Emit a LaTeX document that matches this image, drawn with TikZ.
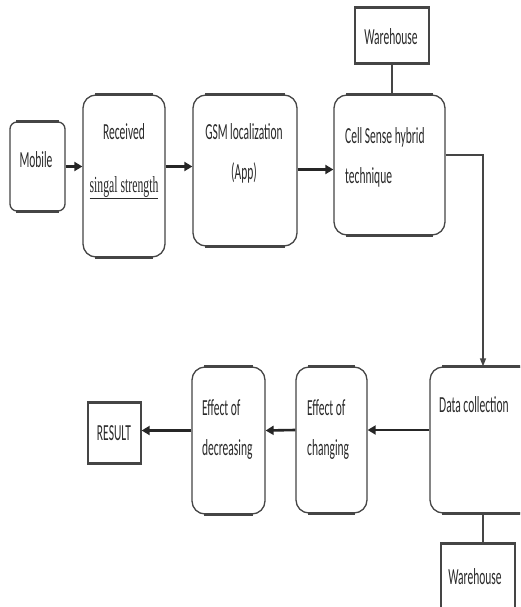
\documentclass[tikz,border=0pt]{standalone}
\usepackage{fontspec}
\usetikzlibrary{arrows.meta,calc}
\newfontfamily\cf[FakeStretch=0.5]{Carlito}
\newfontfamily\serfont[FakeStretch=0.51]{Liberation Serif}
\definecolor{edge}{HTML}{454545}
\definecolor{ink}{HTML}{2a2a2a}
\begin{document}
\begin{tikzpicture}[x=1pt,y=-1pt,
  rbox/.style={draw=edge,line width=1.3pt,rounded corners=13pt,inner sep=0pt,fill=white},
  sbox/.style={draw=edge,line width=1.3pt,inner sep=0pt,fill=white},
  hline/.style={draw=edge,line width=2.4pt},
  txt/.style={font=\cf\fontsize{23}{40}\selectfont,text=ink,inner sep=0pt},
  arr/.style={draw=black!85,line width=2.6pt,-{Triangle[length=8pt,width=9pt]}},
  thin/.style={draw=edge,line width=1.3pt},
  thinarr/.style={draw=edge,line width=1.3pt,-{Triangle[length=8pt,width=6pt]}}]
\clip (0,0) rectangle (520,607);
\fill[white] (0,0) rectangle (520,607);
% boxes
\node[rbox,rounded corners=7pt,minimum width=55pt,minimum height=89pt] (mobile) at (37.5,166.5) {};
\node[rbox,minimum width=82pt,minimum height=162pt] (recv) at (124,176) {};
\node[rbox,minimum width=104pt,minimum height=151pt] (gsm) at (245,170.5) {};
\node[rbox,minimum width=111pt,minimum height=140pt] (cell) at (389.5,165) {};
\node[sbox,minimum width=74pt,minimum height=55pt] (wh1) at (392,35.5) {};
\node[rbox,minimum width=106pt,minimum height=146pt] (data) at (483,440) {};
\node[rbox,minimum width=71pt,minimum height=146pt] (changing) at (331.5,440) {};
\node[rbox,minimum width=73pt,minimum height=147pt] (decreasing) at (228.5,440.5) {};
\node[sbox,minimum width=53pt,minimum height=60pt] (result) at (114.5,433) {};
\node[sbox,minimum width=74pt,minimum height=86pt] (wh2) at (478,587) {};
% heavier horizontal edges
\foreach \n/\r in {mobile/7,recv/13,gsm/13,cell/13,data/13,changing/13,decreasing/13,wh1/0,result/0,wh2/0}{
  \draw[hline] ([xshift=\r pt]\n.north west) -- ([xshift=-\r pt]\n.north east);
  \draw[hline] ([xshift=\r pt]\n.south west) -- ([xshift=-\r pt]\n.south east);
}
% texts
\node[txt] (tmobile) at (36,160) {Mobile};
\node[txt,align=center] (trecv) at (124,161) {Received\\[13pt]{\serfont\underline{singal strength}}};
\node[txt,align=center] (tgsm) at (244,153.5) {GSM localization\\(App)};
\node[txt] (twh1) at (391,37) {Warehouse};
\node[txt,align=left,anchor=west] (tcell) at (345,157) {Cell Sense hybrid\\technique};
\node[txt,anchor=west] (tdata) at (439,405) {Data collection};
\node[txt,align=left,anchor=west] (tchanging) at (307,430) {Effect of\\changing};
\node[txt,align=left,anchor=west] (tdecreasing) at (202,430) {Effect of\\decreasing};
\node[txt] (tresult) at (114,433) {RESULT};
\node[txt] (twh2) at (475,577) {Warehouse};
% connectors
\draw[arr] (mobile.east) -- (mobile.east -| recv.west);
\draw[arr] (recv.east |- mobile.east) -- (gsm.west |- mobile.east);
\draw[arr] ([yshift=-3pt]gsm.east |- mobile.east) -- ([yshift=-3pt]cell.west |- mobile.east);
\draw[thinarr] ([yshift=10pt]cell.east) -| (data.north);
\draw[thin] (wh1.south) -- (wh1.south |- cell.north);
\draw[thin] (data.south) -- (data.south |- wh2.north);
\draw[arr] ([yshift=10pt]data.west) -- ([yshift=10pt]changing.east);
\draw[arr] ([yshift=10pt]changing.west) -- ([yshift=10pt]decreasing.east);
\draw[arr] ([yshift=10pt]decreasing.west) -- ([yshift=10pt]decreasing.west -| result.east);
\end{tikzpicture}
\end{document}
